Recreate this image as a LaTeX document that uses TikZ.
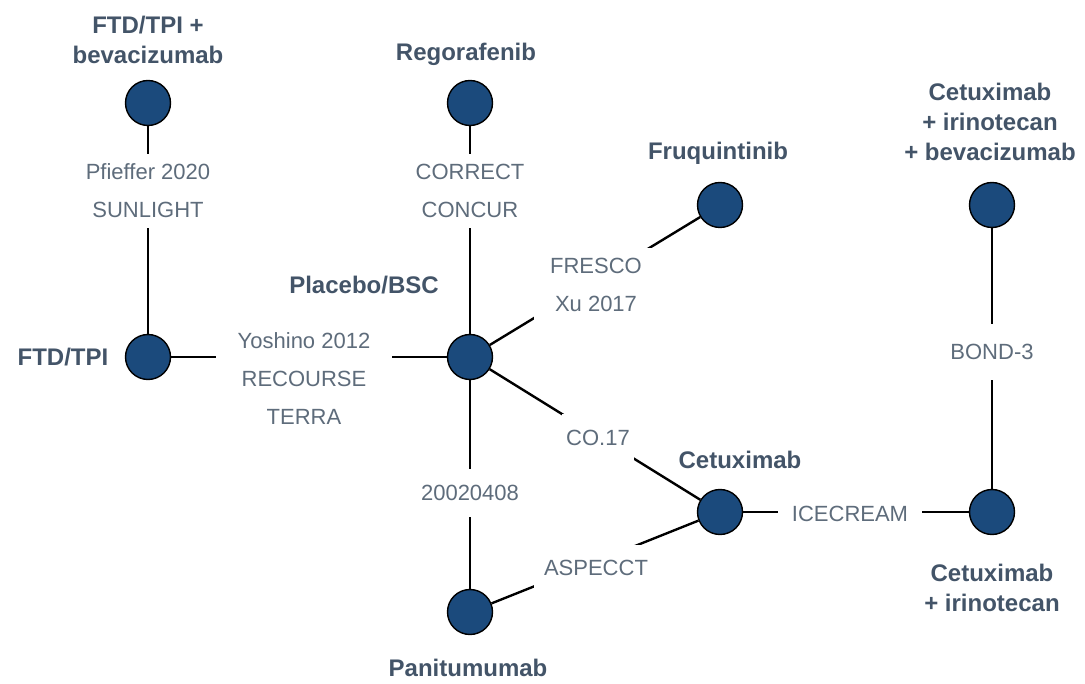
\documentclass[tikz,border=0pt]{standalone}
\usepackage{fontspec}
\setmainfont{Liberation Sans}
\usetikzlibrary{positioning}
\definecolor{nodeblue}{HTML}{1B4A7C}
\definecolor{armtext}{HTML}{435468}
\definecolor{trialtext}{HTML}{5E6C7B}

\begin{document}
\begin{tikzpicture}[x=1pt, y=-1pt,
    arm/.style={circle, draw=black, line width=1.4pt, fill=nodeblue, minimum size=45pt, inner sep=0pt},
    armlabel/.style={text=armtext, font=\fontsize{24}{30}\selectfont\bfseries, align=center},
    trial/.style={text=trialtext, fill=white, font=\fontsize{22}{38}\selectfont, align=center, inner xsep=10pt, inner ysep=10pt},
    link/.style={line width=2.4pt, black}]
    \useasboundingbox (0,0) rectangle (1085,684);

    % treatments
    \node[arm] (ftdbev)   at (148,103) {};
    \node[arm] (rego)     at (470,103) {};
    \node[arm] (fruq)     at (720,205) {};
    \node[arm] (cetirbev) at (992,205) {};
    \node[arm] (ftd)      at (148,357) {};
    \node[arm] (pbo)      at (470,357) {};
    \node[arm] (cet)      at (720,512) {};
    \node[arm] (cetir)    at (992,512) {};
    \node[arm] (pani)     at (470,612) {};

    \node[armlabel] (ftdbev-l)   at (148,40)  {FTD/TPI +\\bevacizumab};
    \node[armlabel] (rego-l)     at (466,54)  {Regorafenib};
    \node[armlabel] (fruq-l)     at (718,153) {Fruquintinib};
    \node[armlabel] (cetirbev-l) at (990,122) {Cetuximab\\+ irinotecan\\+ bevacizumab};
    \node[armlabel] (ftd-l)      at (63,357)  {FTD/TPI};
    \node[armlabel] (pbo-l)      at (364,285) {Placebo/BSC};
    \node[armlabel] (cet-l)      at (740,460) {Cetuximab};
    \node[armlabel] (cetir-l)    at (992,588) {Cetuximab\\+ irinotecan};
    \node[armlabel] (pani-l)     at (468,668) {Panitumumab};

    % comparisons
    \draw[link] (ftdbev) -- (ftd);
    \draw[link] (rego) -- (pbo);
    \draw[link] (ftd) -- (pbo);
    \draw[link] (pbo) -- (fruq);
    \draw[link] (pbo) -- (cet);
    \draw[link] (pbo) -- (pani);
    \draw[link] (pani) -- (cet);
    \draw[link] (cet) -- (cetir);
    \draw[link] (cetirbev) -- (cetir);

    \node[trial] (sunlight) at (148,191) {Pfieffer 2020\\SUNLIGHT};
    \node[trial] (correct)  at (470,191) {CORRECT\\CONCUR};
    \node[trial, inner xsep=22pt] (recourse) at (304,379) {Yoshino 2012\\RECOURSE\\TERRA};
    \node[trial, inner xsep=16pt] (fresco)   at (596,285) {FRESCO\\Xu 2017};
    \node[trial, inner xsep=4pt, inner ysep=16pt] (co17) at (598,438) {CO.17};
    \node[trial, inner ysep=16pt] (s2002)    at (470,493) {20020408};
    \node[trial, inner ysep=15pt] (aspecct)  at (596,568) {ASPECCT};
    \node[trial, inner xsep=14pt] (icecream) at (850,514) {ICECREAM};
    \node[trial, inner ysep=20pt] (bond)     at (992,352) {BOND-3};
\end{tikzpicture}
\end{document}
